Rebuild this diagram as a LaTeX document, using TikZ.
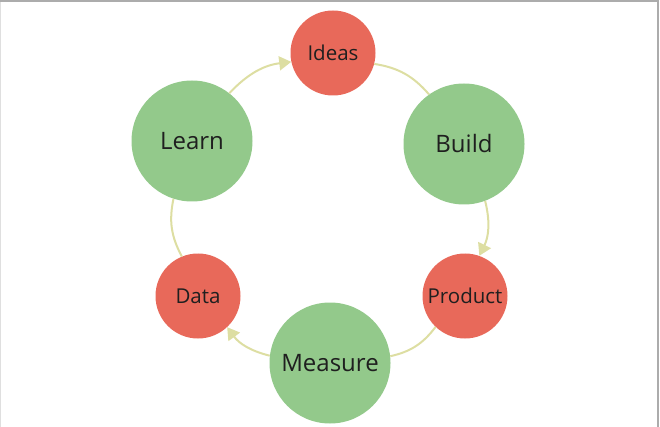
\documentclass[tikz,border=0pt]{standalone}
\usepackage{fontspec}
\setmainfont{Open Sans}
\usetikzlibrary{arrows.meta}
\definecolor{stepred}{HTML}{E8695A}
\definecolor{stepgreen}{HTML}{93C98B}
\definecolor{loopline}{HTML}{DDDEA2}
\begin{document}
\begin{tikzpicture}[x=1pt,y=-1pt,
  big/.style={circle,fill=stepgreen,minimum size=121pt,inner sep=0pt,text=black!88,font=\fontsize{24}{28}\selectfont},
  small/.style={circle,fill=stepred,minimum size=85pt,inner sep=0pt,text=black!88,font=\fontsize{20.5}{24}\selectfont},
  link/.style={draw=loopline,line width=2pt},
  tip/.style={-{Triangle[length=12pt,width=14pt]}}]
\useasboundingbox (0,0) rectangle (660,427);
% frame
\draw[gray!25,line width=1.2pt] (0.6,0) -- (0.6,427);
\draw[gray!65,line width=2.2pt] (0,1.1) -- (658,1.1) -- (658,427);
% steps
\node[big] (learn) at (192,141) {Learn};
\node[small] (ideas) at (333,53) {Ideas};
\node[big] (build) at (464,144) {Build};
\node[small] (product) at (465,296) {Product};
\node[big] (measure) at (330,363) {Measure};
\node[small] (data) at (198,296) {Data};
% loop
\draw[link,tip] (learn) to[bend left=20] (ideas);
\draw[link] (ideas) to[bend left=20] (build);
\draw[link,tip] (build) to[bend left=20] (product);
\draw[link] (product) to[bend left=20] (measure);
\draw[link,tip] (measure) to[bend left=20] (data);
\draw[link] (data) to[bend left=20] (learn);
\end{tikzpicture}
\end{document}
